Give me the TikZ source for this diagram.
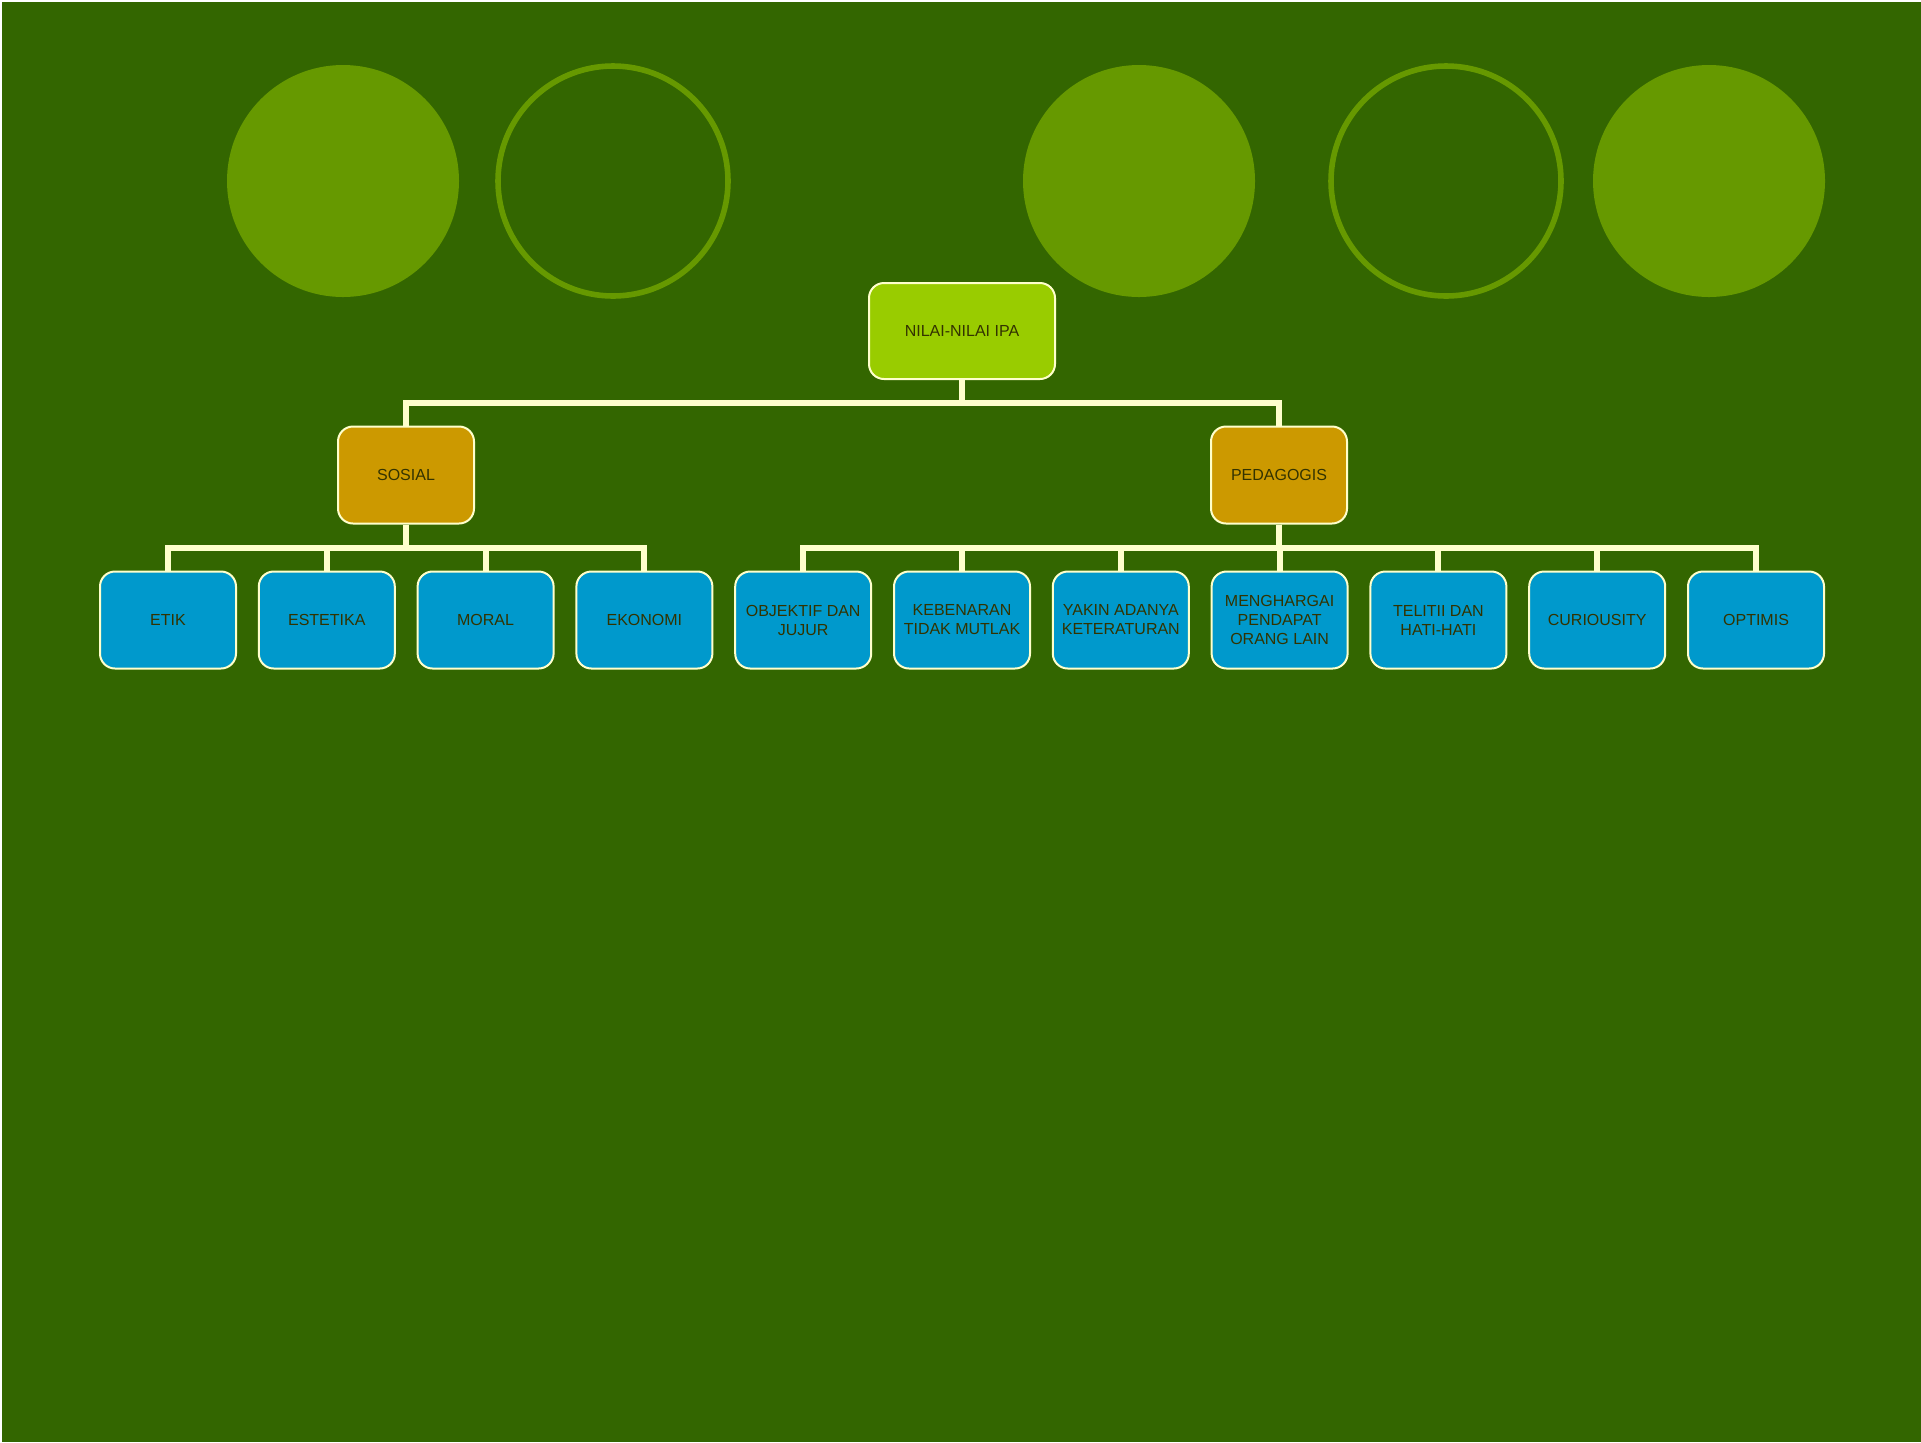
\documentclass[tikz,border=0pt]{standalone}
\usepackage{fontspec}
\setmainfont{Liberation Sans}
\definecolor{bggreen}{HTML}{336600}
\definecolor{dotgreen}{HTML}{669900}
\definecolor{rootgreen}{HTML}{99CC00}
\definecolor{midgold}{HTML}{CC9900}
\definecolor{leafblue}{HTML}{0099CC}
\definecolor{linecream}{HTML}{FFFFCC}
\definecolor{txtolive}{HTML}{333300}

\begin{document}
\begin{tikzpicture}[x=0.5pt, y=-0.5pt,
    box/.style={draw=linecream, line width=1pt, rounded corners=7.5pt,
      text=txtolive, font=\fontsize{8}{9.5}\selectfont, align=center,
      inner sep=1pt},
    rootbox/.style={box, fill=rootgreen, minimum width=93pt, minimum height=48pt},
    midbox/.style={box, fill=midgold, minimum width=68pt, minimum height=48.5pt},
    leafbox/.style={box, fill=leafblue, minimum width=68pt, minimum height=48.5pt},
    conn/.style={draw=linecream, line width=3pt}]

    % background
    \fill[bggreen] (0,0) rectangle (1921,1442);
    \useasboundingbox (0,0) rectangle (1921,1442);
    \draw[white, line width=1pt] (1,1442) -- (1,1) -- (1921,1);

    % circles along the top
    \fill[dotgreen] (343,181) circle[radius=116];
    \draw[dotgreen, line width=2.8pt] (613,181) circle[radius=115];
    \fill[dotgreen] (1139,181) circle[radius=116];
    \draw[dotgreen, line width=2.8pt] (1446,181) circle[radius=115];
    \fill[dotgreen] (1709,181) circle[radius=116];

    % top and second level
    \node[rootbox] (root) at (962,331) {NILAI-NILAI IPA};
    \node[midbox] (sosial) at (406,475) {SOSIAL};
    \node[midbox] (pedagogis) at (1279,475) {PEDAGOGIS};

    % leaves
    \node[leafbox] (etik) at (168,620) {ETIK};
    \node[leafbox] (estetika) at (326.8,620) {ESTETIKA};
    \node[leafbox] (moral) at (485.6,620) {MORAL};
    \node[leafbox] (ekonomi) at (644.4,620) {EKONOMI};
    \node[leafbox] (objektif) at (803.2,620) {OBJEKTIF DAN\\JUJUR};
    \node[leafbox] (kebenaran) at (962,620) {KEBENARAN\\TIDAK MUTLAK};
    \node[leafbox] (yakin) at (1120.8,620) {YAKIN ADANYA\\KETERATURAN};
    \node[leafbox] (menghargai) at (1279.6,620) {MENGHARGAI\\PENDAPAT\\ORANG LAIN};
    \node[leafbox] (teliti) at (1438.4,620) {TELITII DAN\\HATI-HATI};
    \node[leafbox] (curiousity) at (1597.2,620) {CURIOUSITY};
    \node[leafbox] (optimis) at (1756,620) {OPTIMIS};

    % connectors
    \draw[conn] (root.south) -- ++(0,23) -| (sosial.north);
    \draw[conn] (root.south) -- ++(0,23) -| (pedagogis.north);
    \foreach \leaf in {etik,estetika,moral,ekonomi}
      \draw[conn] (sosial.south) -- ++(0,23) -| (\leaf.north);
    \foreach \leaf in {objektif,kebenaran,yakin,menghargai,teliti,curiousity,optimis}
      \draw[conn] (pedagogis.south) -- ++(0,23) -| (\leaf.north);

\end{tikzpicture}
\end{document}
